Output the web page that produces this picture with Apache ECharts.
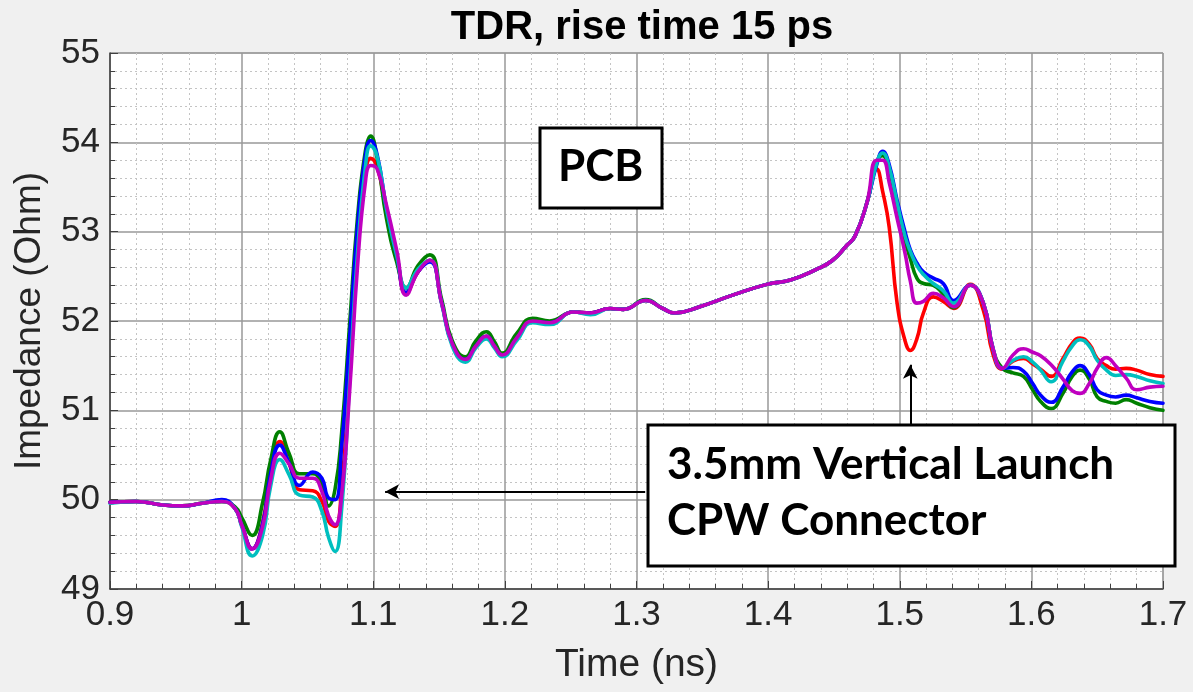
<!DOCTYPE html>
<html>
<head>
<meta charset="utf-8">
<script src="https://cdn.jsdelivr.net/npm/echarts@6/dist/echarts.min.js"></script>
<style>
html,body{margin:0;padding:0;background:#f0f0f0;}
#chart{width:1193px;height:692px;}
</style>
</head>
<body>
<div id="chart"></div>
<script>
// ---- data (time in ns, impedance in Ohm) ----
const times = [0.900,0.920,0.940,0.955,0.970,0.985,0.995,1.000,1.008,1.016,1.022,1.029,1.036,1.044,1.054,1.061,1.066,1.071,1.076,1.082,1.088,1.094,1.098,1.103,1.110,1.118,1.125,1.134,1.143,1.152,1.160,1.170,1.178,1.186,1.192,1.198,1.209,1.221,1.234,1.252,1.265,1.280,1.290,1.307,1.320,1.329,1.348,1.373,1.399,1.417,1.437,1.449,1.460,1.466,1.475,1.4825,1.487,1.492,1.498,1.504,1.508,1.513,1.518,1.5255,1.533,1.541,1.5535,1.5635,1.571,1.578,1.586,1.594,1.601,1.607,1.615,1.624,1.631,1.637,1.644,1.650,1.657,1.664,1.672,1.680,1.690,1.700];

const red     = [49.97,49.98,49.94,49.93,49.96,49.98,49.90,49.72,49.45,49.75,50.32,50.65,50.41,50.11,50.10,49.98,49.76,49.70,50.15,51.40,52.75,53.65,53.82,53.72,53.24,52.72,52.31,52.55,52.68,52.20,51.75,51.57,51.72,51.83,51.72,51.62,51.81,52.00,51.98,52.10,52.09,52.14,52.13,52.23,52.14,52.09,52.16,52.29,52.41,52.46,52.58,52.68,52.85,52.95,53.32,53.70,53.45,53.05,52.20,51.78,51.67,51.80,52.09,52.27,52.22,52.14,52.41,52.12,51.62,51.46,51.55,51.58,51.52,51.46,51.38,51.58,51.75,51.81,51.74,51.58,51.50,51.46,51.47,51.45,51.40,51.38];
const green   = [49.97,49.98,49.94,49.93,49.96,49.98,49.92,49.80,49.60,49.97,50.44,50.76,50.52,50.29,50.29,50.17,49.93,50.12,50.75,51.95,53.15,53.90,54.07,53.82,53.15,52.65,52.37,52.62,52.74,52.24,51.78,51.60,51.78,51.88,51.77,51.64,51.86,52.03,52.00,52.10,52.09,52.14,52.13,52.24,52.14,52.09,52.16,52.29,52.41,52.46,52.58,52.68,52.85,52.95,53.32,53.78,53.85,53.68,53.30,52.90,52.70,52.48,52.42,52.40,52.30,52.15,52.40,52.20,51.68,51.47,51.42,51.38,51.23,51.10,51.02,51.19,51.38,51.45,51.35,51.15,51.10,51.08,51.12,51.08,51.03,51.00];
const blue    = [49.97,49.98,49.94,49.93,49.96,50.00,49.90,49.72,49.45,49.73,50.29,50.61,50.41,50.16,50.31,50.24,50.02,50.00,50.60,51.80,53.05,53.85,54.02,53.86,53.26,52.72,52.32,52.55,52.66,52.20,51.74,51.57,51.72,51.83,51.72,51.61,51.80,51.99,51.98,52.10,52.09,52.14,52.13,52.23,52.14,52.09,52.16,52.29,52.41,52.46,52.58,52.68,52.85,52.95,53.32,53.75,53.90,53.75,53.35,53.00,52.80,52.65,52.55,52.48,52.42,52.23,52.40,52.20,51.68,51.47,51.48,51.44,51.30,51.17,51.09,51.26,51.43,51.50,51.40,51.23,51.17,51.15,51.17,51.14,51.10,51.08];
const cyan    = [49.96,49.98,49.94,49.93,49.96,49.98,49.90,49.70,49.37,49.60,50.15,50.45,50.28,50.05,50.03,49.87,49.58,49.42,49.90,51.30,52.75,53.72,53.96,53.84,53.26,52.72,52.37,52.58,52.68,52.19,51.72,51.54,51.70,51.80,51.70,51.60,51.78,51.98,51.96,52.10,52.07,52.14,52.13,52.23,52.14,52.09,52.16,52.29,52.41,52.46,52.58,52.68,52.85,52.95,53.32,53.77,53.88,53.72,53.32,52.95,52.78,52.62,52.52,52.42,52.34,52.20,52.40,52.20,51.68,51.47,51.56,51.60,51.54,51.45,51.32,51.55,51.72,51.79,51.72,51.56,51.45,51.39,51.40,51.38,51.33,51.30];
const magenta = [49.97,49.98,49.94,49.93,49.96,49.98,49.90,49.72,49.45,49.70,50.22,50.52,50.40,50.24,50.24,50.09,49.82,49.72,50.05,51.20,52.60,53.55,53.74,53.70,53.30,52.78,52.29,52.55,52.68,52.20,51.75,51.57,51.72,51.83,51.72,51.62,51.81,52.00,51.98,52.10,52.09,52.14,52.13,52.23,52.14,52.09,52.16,52.29,52.41,52.46,52.58,52.68,52.85,52.95,53.32,53.80,53.80,53.55,53.15,52.76,52.45,52.20,52.22,52.31,52.26,52.16,52.40,52.20,51.68,51.47,51.62,51.69,51.65,51.61,51.51,51.35,51.22,51.19,51.30,51.47,51.59,51.50,51.36,51.23,51.26,51.27];

const seriesNames  = ['red','green','blue','cyan','magenta'];
const seriesColors = ['#ff0000','#008000','#0000ff','#00bfbf','#bf00bf'];
const seriesData   = [red, green, blue, cyan, magenta];

const xTicks = {min:0.9, max:1.7, step:0.1};
const yTicks = {min:49, max:55, step:1};

const titleText = 'TDR, rise time 15 ps';
const xName = 'Time (ns)';
const yName = 'Impedance (Ohm)';
const pcbLabel = 'PCB';
const connLabel = ['3.5mm Vertical Launch', 'CPW Connector'];
// arrow annotations in data coordinates
const arrowH = [[1.3066, 50.09], [1.109, 50.09]];
const arrowV = [[1.508, 50.84], [1.508, 51.51]];

const chart = echarts.init(document.getElementById('chart'), null, {renderer:'canvas'});
const font = '"Liberation Sans", Arial, sans-serif';
const boxFont = 'bold 44px Lato, "Open Sans", sans-serif';

const series = seriesNames.map((n, i) => ({
  name: n,
  type: 'line',
  data: times.map((t, k) => [t, seriesData[i][k]]),
  showSymbol: false,
  smooth: 0.5,
  lineStyle: {width: 3.6, color: seriesColors[i], cap: 'round', join: 'round'},
  itemStyle: {color: seriesColors[i]},
  z: 3 + i,
  animation: false
}));

series.push({
  name: 'annot',
  type: 'line',
  data: [],
  z: 20,
  animation: false,
  markLine: {
    silent: true,
    symbol: ['none', 'arrow'],
    symbolSize: [11, 14],
    label: {show: false},
    lineStyle: {color: '#000', width: 2, type: 'solid'},
    data: [
      [{coord: arrowH[0]}, {coord: arrowH[1]}],
      [{coord: arrowV[0]}, {coord: arrowV[1]}]
    ],
    animation: false
  }
});

const option = {
  backgroundColor: '#f0f0f0',
  animation: false,
  title: {
    text: titleText,
    left: 637, top: 3, textAlign: 'center',
    textStyle: {fontFamily: font, fontWeight: 'bold', fontSize: 40, color: '#000'}
  },
  grid: {
    left: 110, right: 30, top: 53, bottom: 103,
    show: true, backgroundColor: '#ffffff', borderColor: '#9a9a9a', borderWidth: 1
  },
  xAxis: {
    type: 'value', min: xTicks.min, max: xTicks.max, interval: xTicks.step,
    name: xName, nameLocation: 'middle', nameGap: 57,
    nameTextStyle: {fontFamily: font, fontSize: 39, color: '#262626'},
    axisLine: {show: true, lineStyle: {color: '#404040', width: 1.5}},
    axisTick: {show: true, inside: true, length: 8, lineStyle: {color: '#404040'}},
    minorTick: {show: true, splitNumber: 5, length: 5, lineStyle: {color: '#404040'}},
    axisLabel: {fontFamily: font, fontSize: 35, color: '#262626', margin: 9,
      formatter: v => (Math.round(v * 10) / 10).toString()},
    splitLine: {show: true, lineStyle: {color: '#999999', width: 1.5}},
    minorSplitLine: {show: true, lineStyle: {color: '#c4c4c4', type: [2, 3], width: 1}}
  },
  yAxis: {
    type: 'value', min: yTicks.min, max: yTicks.max, interval: yTicks.step,
    name: yName, nameLocation: 'middle', nameGap: 62,
    nameTextStyle: {fontFamily: font, fontSize: 37, color: '#262626'},
    axisLine: {show: true, lineStyle: {color: '#404040', width: 1.5}},
    axisTick: {show: true, inside: true, length: 8, lineStyle: {color: '#404040'}},
    minorTick: {show: true, splitNumber: 5, length: 5, lineStyle: {color: '#404040'}},
    axisLabel: {fontFamily: font, fontSize: 35, color: '#262626', margin: 10},
    splitLine: {show: true, lineStyle: {color: '#999999', width: 1.5}},
    minorSplitLine: {show: true, lineStyle: {color: '#c4c4c4', type: [2, 3], width: 1}}
  },
  series: series,
  graphic: [
    {type: 'rect', z: 50, shape: {x: 540, y: 128, width: 122, height: 80},
     style: {fill: '#fff', stroke: '#000', lineWidth: 3}},
    {type: 'text', z: 51, left: 558, top: 145,
     style: {text: pcbLabel, font: boxFont, fill: '#000'}},
    {type: 'rect', z: 50, shape: {x: 648, y: 425, width: 527, height: 141},
     style: {fill: '#fff', stroke: '#000', lineWidth: 3}},
    {type: 'text', z: 51, left: 667, top: 443,
     style: {text: connLabel[0], font: boxFont, fill: '#000'}},
    {type: 'text', z: 51, left: 667, top: 499,
     style: {text: connLabel[1], font: boxFont, fill: '#000'}}
  ]
};
chart.setOption(option);
</script>
</body>
</html>
